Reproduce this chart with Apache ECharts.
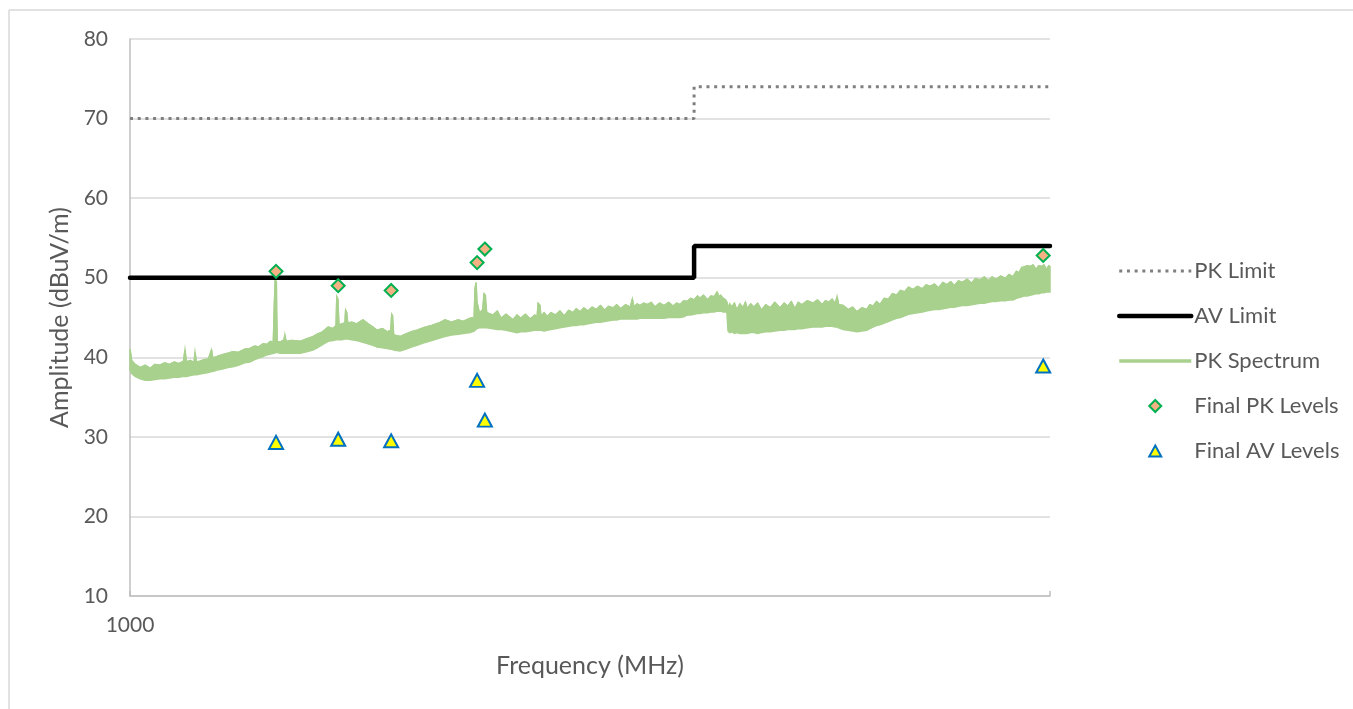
<!DOCTYPE html>
<html>
<head>
<meta charset="utf-8">
<script src="https://cdn.jsdelivr.net/npm/echarts@6/dist/echarts.min.js"></script>
<style>html,body{margin:0;padding:0;background:#fff}#c{width:1353px;height:709px}</style>
</head>
<body>
<div id="c"></div>
<script>
// ---- data ----
var xTickLabels = ['1000'];
var yTicks = [10, 20, 30, 40, 50, 60, 70, 80];

var pkLimitFreq = [1000, 3000, 3000, 6000];
var pkLimitVal  = [70, 70, 74, 74];
var avLimitFreq = [1000, 3000, 3000, 6000];
var avLimitVal  = [50, 50, 54, 54];

var finalFreq = [1329, 1500, 1663, 1966, 1996, 5921];
var finalPK   = [50.8, 49.0, 48.4, 51.9, 53.6, 52.8];
var finalAV   = [29.3, 29.7, 29.5, 37.1, 32.1, 38.9];

// PK spectrum trace envelope: [frequency MHz, upper edge dBuV/m, lower edge dBuV/m]
var spectrum = [
  [1000,41.0,38.4],[1003,39.6,38.0],[1010,39.1,37.6],[1020,38.7,37.3],[1030,39.0,37.1],[1040,38.6,37.1],
  [1050,39.1,37.2],[1060,39.0,37.3],[1070,39.3,37.3],[1080,39.1,37.4],[1090,39.4,37.5],[1100,39.2,37.5],
  [1110,39.5,37.6],[1113,40.9,37.6],[1116,39.4,37.6],[1125,39.6,37.7],[1133,39.3,37.8],[1135,40.6,37.8],
  [1138,39.4,37.8],[1146,39.5,37.9],[1155,39.7,38.0],[1165,39.8,38.1],[1172,40.9,38.2],[1175,39.9,38.2],
  [1185,40.1,38.4],[1195,40.3,38.5],[1210,40.5,38.7],[1222,40.7,38.8],[1235,40.6,39.0],[1250,41.0,39.3],
  [1263,41.1,39.4],[1275,41.4,39.7],[1285,41.3,39.9],[1296,41.7,40.1],[1305,41.6,40.3],[1315,42.0,40.4],
  [1322,41.8,40.5],[1325,47.0,40.5],[1327,49.7,40.6],[1330,49.5,40.6],[1332,42.0,40.6],[1340,41.9,40.5],
  [1350,42.2,40.5],[1352,42.8,40.5],[1355,42.0,40.5],[1370,42.1,40.5],[1393,42.0,40.5],[1410,42.3,40.7],
  [1428,42.6,40.9],[1440,42.9,41.2],[1455,43.2,41.6],[1471,43.8,42.0],[1485,43.6,42.1],[1494,44.0,42.2],
  [1496,47.6,42.2],[1499,47.3,42.2],[1502,44.0,42.2],[1510,44.2,42.2],[1520,44.3,42.3],[1522,45.9,42.3],
  [1525,45.6,42.3],[1528,44.3,42.3],[1540,44.4,42.2],[1555,44.2,42.1],[1574,44.7,41.9],[1590,44.2,41.7],
  [1605,43.8,41.5],[1618,43.4,41.3],[1635,43.6,41.2],[1650,43.2,41.1],[1662,43.4,41.0],[1665,45.4,41.0],
  [1668,45.2,41.0],[1671,42.8,40.9],[1692,42.6,40.8],[1710,42.9,41.0],[1730,43.2,41.3],[1749,43.4,41.5],
  [1770,43.7,41.8],[1800,44.0,42.1],[1825,44.3,42.4],[1847,44.7,42.6],[1870,44.4,42.8],[1895,44.7,42.9],
  [1913,44.5,43.0],[1940,44.9,43.1],[1955,45.0,43.3],[1958,48.5,43.4],[1962,49.4,43.5],[1965,47.0,43.6],
  [1975,45.5,43.7],[1988,46.0,43.7],[1993,48.0,43.7],[1998,47.8,43.7],[2003,45.6,43.7],[2028,45.3,43.6],
  [2045,45.8,43.5],[2060,44.9,43.5],[2080,45.4,43.4],[2108,44.7,43.2],[2125,45.3,43.1],[2140,44.9,43.2],
  [2160,45.4,43.2],[2180,44.8,43.3],[2200,45.3,43.4],[2210,45.0,43.4],[2214,46.8,43.4],[2222,46.5,43.4],
  [2226,45.1,43.4],[2240,45.6,43.3],[2253,45.1,43.4],[2270,45.6,43.5],[2290,45.3,43.6],[2310,45.8,43.7],
  [2330,45.2,43.8],[2350,45.9,43.9],[2370,45.6,44.0],[2385,46.1,44.0],[2402,45.7,44.1],[2420,46.2,44.1],
  [2440,45.8,44.2],[2460,46.3,44.3],[2480,46.0,44.4],[2500,46.5,44.4],[2520,45.9,44.5],[2540,46.4,44.6],
  [2562,46.2,44.7],[2580,46.6,44.7],[2600,46.1,44.8],[2625,46.6,44.8],[2650,46.3,44.8],[2660,47.3,44.8],
  [2668,46.3,44.8],[2685,46.7,44.8],[2700,46.5,44.9],[2720,46.8,44.9],[2737,46.6,44.9],[2760,46.9,44.9],
  [2780,46.3,44.9],[2805,46.8,44.9],[2830,46.5,44.9],[2855,46.9,45.0],[2880,46.4,45.0],[2900,46.8,45.0],
  [2919,46.6,45.0],[2940,47.1,45.1],[2960,47.0,45.3],[2980,47.4,45.3],[3000,47.2,45.4],[3020,47.7,45.5],
  [3035,47.4,45.5],[3055,47.8,45.6],[3080,47.2,45.6],[3100,47.7,45.7],[3120,47.6,45.7],[3137,48.2,45.8],
  [3150,47.6,45.8],[3160,47.8,45.8],[3175,47.4,45.7],[3190,47.2,45.7],[3198,46.9,45.6],[3205,46.0,43.3],
  [3215,46.7,43.1],[3230,46.3,43.2],[3245,46.8,43.0],[3260,45.9,43.1],[3280,46.7,43.0],[3300,46.2,43.0],
  [3315,46.9,43.0],[3326,46.1,43.0],[3350,46.7,43.1],[3370,46.3,43.1],[3395,46.8,43.0],[3420,45.9,43.1],
  [3450,46.6,43.2],[3480,46.2,43.2],[3510,46.9,43.3],[3547,46.2,43.4],[3575,46.8,43.4],[3600,46.4,43.5],
  [3625,47.0,43.5],[3650,46.1,43.5],[3675,46.9,43.6],[3700,46.6,43.6],[3740,47.1,43.7],[3782,46.8,43.8],
  [3815,47.2,43.8],[3850,46.6,43.8],[3875,47.1,43.9],[3900,46.9,43.9],[3925,47.3,43.9],[3950,46.7,43.8],
  [3963,47.6,43.8],[3975,46.6,43.7],[4010,46.5,43.5],[4050,46.0,43.4],[4085,46.3,43.3],[4120,45.7,43.2],
  [4160,46.2,43.3],[4200,46.0,43.4],[4225,46.6,43.6],[4250,46.4,43.8],[4280,47.0,44.0],[4309,46.6,44.1],
  [4345,47.4,44.3],[4380,47.3,44.5],[4415,48.0,44.7],[4450,47.8,44.9],[4485,48.4,45.0],[4520,48.2,45.2],
  [4555,48.8,45.4],[4595,48.5,45.5],[4635,48.9,45.6],[4680,48.6,45.7],[4715,49.1,45.8],[4750,48.9,45.9],
  [4790,49.2,46.0],[4830,48.7,46.0],[4870,49.4,46.1],[4909,49.1,46.2],[4945,49.5,46.3],[4980,49.0,46.3],
  [5020,49.6,46.4],[5060,49.4,46.5],[5105,49.8,46.5],[5150,49.3,46.6],[5190,49.9,46.7],[5236,49.7,46.8],
  [5280,50.1,46.8],[5320,49.6,46.9],[5360,50.1,47.0],[5400,49.8,47.0],[5450,50.2,47.1],[5500,49.9,47.1],
  [5540,50.4,47.2],[5583,50.1,47.2],[5620,50.8,47.4],[5650,50.6,47.5],[5680,51.3,47.6],[5700,51.2,47.7],
  [5740,51.5,47.7],[5771,51.4,47.8],[5805,51.6,47.9],[5840,51.0,48.0],[5870,51.5,48.0],[5900,51.4,48.1],
  [5930,51.6,48.1],[5960,51.0,48.2],[5985,51.5,48.2],[6000,51.4,48.2]
];

// ---- build series data ----
function pairs(xs, ys) { return xs.map(function (x, i) { return [x, ys[i]]; }); }
var specUpper = spectrum.map(function (r) { return [r[0], r[1]]; });
var specLower = spectrum.map(function (r) { return [r[0], r[2]]; });

var TEXT = '#595959';
var FONT = 'Lato';
var GREEN = '#A9D18E';

var chart = echarts.init(document.getElementById('c'), null, { renderer: 'canvas' });

var hideSym = { opacity: 0 };
var option = {
  animation: false,
  backgroundColor: '#ffffff',
  textStyle: { fontFamily: FONT, color: TEXT },
  graphic: [
    { type: 'line', shape: { x1: 9, y1: 10, x2: 1353, y2: 10 }, style: { stroke: '#d9d9d9', lineWidth: 1.5 }, silent: true },
    { type: 'line', shape: { x1: 9, y1: 10, x2: 9, y2: 709 }, style: { stroke: '#d9d9d9', lineWidth: 1.5 }, silent: true }
  ],
  grid: { left: 130, right: 303, top: 39, bottom: 113, containLabel: false },
  legend: {
    orient: 'vertical',
    left: 1117,
    top: 260,
    padding: 0,
    itemWidth: 72,
    itemHeight: 14,
    itemGap: 23,
    textStyle: { fontFamily: FONT, fontSize: 22, color: TEXT, padding: [0, 0, 0, -2] },
    data: [
      { name: 'PK Limit', itemStyle: hideSym, lineStyle: { width: 3, type: [3, 4.7] } },
      { name: 'AV Limit', itemStyle: hideSym, lineStyle: { width: 4.5, cap: 'round' } },
      { name: 'PK Spectrum', itemStyle: hideSym, lineStyle: { width: 3.5 } },
      { name: 'Final PK Levels', icon: 'path://M0,0M72,14M36,1L42,7L36,13L30,7Z' },
      { name: 'Final AV Levels', icon: 'path://M0,0M72,14M36,1.5L42,12.5L30,12.5Z' }
    ]
  },
  xAxis: {
    type: 'log',
    logBase: 10,
    min: 1000,
    max: 6000,
    name: 'Frequency (MHz)',
    nameLocation: 'middle',
    nameGap: 57,
    nameTextStyle: { fontFamily: FONT, fontSize: 25, color: TEXT },
    axisLine: { show: true, lineStyle: { color: '#bfbfbf', width: 1.5 } },
    axisTick: { show: true, inside: true, length: 5, lineStyle: { color: '#bfbfbf', width: 1.5 } },
    splitLine: { show: false },
    minorTick: { show: false },
    axisLabel: {
      fontFamily: FONT, fontSize: 21, color: TEXT, margin: 19,
      formatter: function (v) { var s = String(Math.round(v)); return xTickLabels.indexOf(s) >= 0 ? s : ''; }
    }
  },
  yAxis: {
    type: 'value',
    min: yTicks[0],
    max: yTicks[yTicks.length - 1],
    interval: 10,
    name: 'Amplitude (dBuV/m)',
    nameLocation: 'middle',
    nameGap: 55,
    nameTextStyle: { fontFamily: FONT, fontSize: 25, color: TEXT },
    axisLine: { show: true, lineStyle: { color: '#bfbfbf', width: 1.5 } },
    axisTick: { show: false },
    splitLine: { show: true, lineStyle: { color: '#d9d9d9', width: 1.5 } },
    axisLabel: { fontFamily: FONT, fontSize: 21, color: TEXT, margin: 22 }
  },
  series: [
    {
      name: 'PK Spectrum band',
      type: 'custom',
      coordinateSystem: 'cartesian2d',
      silent: true,
      z: 1,
      data: [specLower[0]],
      renderItem: function (params, api) {
        var pts = [];
        for (var i = 0; i < specUpper.length; i++) pts.push(api.coord(specUpper[i]));
        for (var j = specLower.length - 1; j >= 0; j--) pts.push(api.coord(specLower[j]));
        return { type: 'polygon', shape: { points: pts }, style: { fill: GREEN, stroke: GREEN, lineWidth: 1.5 } };
      }
    },
    {
      name: 'PK Spectrum',
      type: 'line',
      z: 2,
      symbol: 'none',
      data: specUpper,
      lineStyle: { color: GREEN, width: 1.5 },
      itemStyle: { color: GREEN }
    },
    {
      name: 'PK Limit',
      type: 'line',
      z: 3,
      symbol: 'none',
      data: pairs(pkLimitFreq, pkLimitVal),
      lineStyle: { color: '#7f7f7f', width: 3, type: [3, 4.7] },
      itemStyle: { color: '#7f7f7f' }
    },
    {
      name: 'AV Limit',
      type: 'line',
      z: 3,
      symbol: 'none',
      data: pairs(avLimitFreq, avLimitVal),
      lineStyle: { color: '#000000', width: 4.5, cap: 'round' },
      itemStyle: { color: '#000000' }
    },
    {
      name: 'Final PK Levels',
      type: 'scatter',
      z: 4,
      symbol: 'diamond',
      symbolSize: 13,
      data: pairs(finalFreq, finalPK),
      itemStyle: { color: '#F4B183', borderColor: '#00B050', borderWidth: 2, opacity: 1 }
    },
    {
      name: 'Final AV Levels',
      type: 'scatter',
      z: 4,
      symbol: 'triangle',
      symbolSize: [14, 13],
      data: pairs(finalFreq, finalAV),
      itemStyle: { color: '#FFFF00', borderColor: '#0070C0', borderWidth: 2, opacity: 1 }
    }
  ]
};
chart.setOption(option);
</script>
</body>
</html>
